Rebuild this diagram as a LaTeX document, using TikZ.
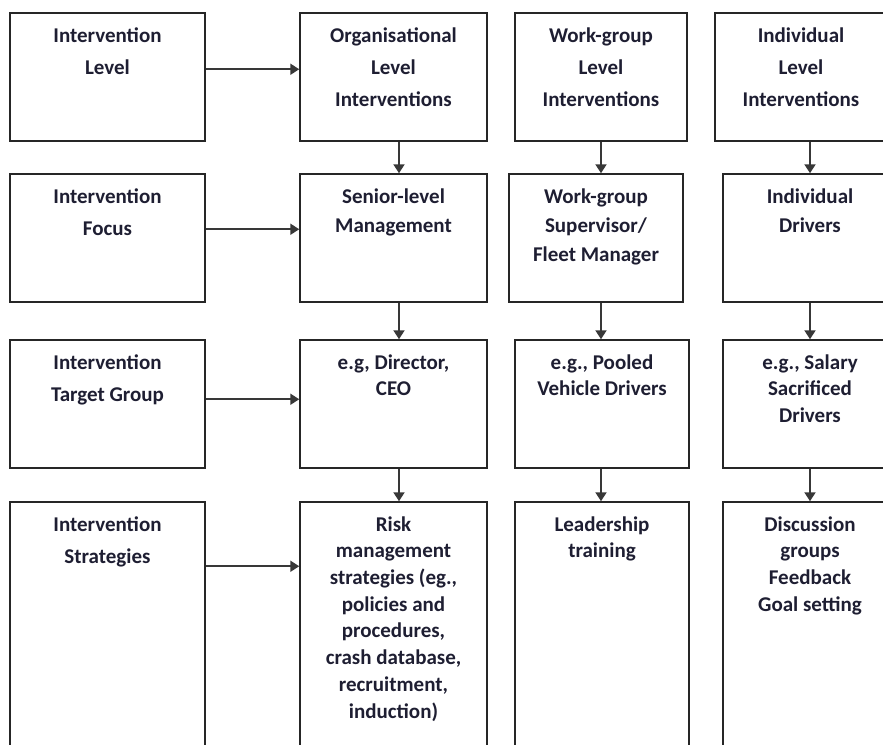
\documentclass[tikz,border=0pt]{standalone}
\usepackage{fontspec}
\setmainfont{Carlito}
\usetikzlibrary{arrows.meta}
\definecolor{inktext}{RGB}{30,30,50}

\begin{document}
\begin{tikzpicture}[x=1pt, y=-1pt,
    box/.style={draw=black!85, line width=1.5pt, inner sep=0pt},
    txt/.style={anchor=north, inner sep=0pt, align=center, text=inktext,
        font=\fontsize{21}{32}\selectfont\bfseries, execute at begin node={\rule{0pt}{15pt}}},
    tight/.style={font=\fontsize{21}{26.7}\selectfont\bfseries},
    mid/.style={font=\fontsize{21}{29}\selectfont\bfseries},
    arr/.style={-{Triangle[width=11pt,length=9pt]}, line width=2pt, draw=black!78, fill=black}]
    \useasboundingbox (0,0) rectangle (883,744);
    \clip (0,0) rectangle (883,744);

    % left column
    \node[box, minimum width=195pt, minimum height=128pt] (hdlevel) at (107.5,77) {};
    \node[box, minimum width=195pt, minimum height=128pt] (hdfocus) at (107.5,238) {};
    \node[box, minimum width=195pt, minimum height=128pt] (hdtarget) at (107.5,404) {};
    \node[box, minimum width=195pt, minimum height=268pt] (hdstrat) at (107.5,636) {};
    \node[txt, yshift=-15pt] (hdlevel-t) at (hdlevel.north) {Intervention\\Level};
    \node[txt, yshift=-15pt] (hdfocus-t) at (hdfocus.north) {Intervention\\Focus};
    \node[txt, yshift=-15pt] (hdtarget-t) at (hdtarget.north) {Intervention\\Target Group};
    \node[txt, yshift=-15pt] (hdstrat-t) at (hdstrat.north) {Intervention\\Strategies};

    % organisational
    \node[box, minimum width=187pt, minimum height=128pt] (orglevel) at (393.5,77) {};
    \node[box, minimum width=187pt, minimum height=128pt] (orgfocus) at (393.5,238) {};
    \node[box, minimum width=187pt, minimum height=128pt] (orgtarget) at (393.5,404) {};
    \node[box, minimum width=187pt, minimum height=268pt] (orgstrat) at (393.5,636) {};
    \node[txt, yshift=-15pt] (orglevel-t) at (orglevel.north) {Organisational\\Level\\Interventions};
    \node[txt, mid, yshift=-15pt] (orgfocus-t) at (orgfocus.north) {Senior-level\\Management};
    \node[txt, tight, yshift=-15pt] (orgtarget-t) at (orgtarget.north) {e.g, Director,\\CEO};
    \node[txt, tight, yshift=-15pt] (orgstrat-t) at (orgstrat.north)
        {Risk\\management\\strategies (eg.,\\policies and\\procedures,\\crash database,\\recruitment,\\induction)};

    % work-group
    \node[box, minimum width=172pt, minimum height=128pt] (wglevel) at (601,77) {};
    \node[box, minimum width=174pt, minimum height=128pt] (wgfocus) at (596,238) {};
    \node[box, minimum width=174pt, minimum height=128pt] (wgtarget) at (602,404) {};
    \node[box, minimum width=174pt, minimum height=268pt] (wgstrat) at (602,636) {};
    \node[txt, yshift=-15pt] (wglevel-t) at (wglevel.north) {Work-group\\Level\\Interventions};
    \node[txt, mid, yshift=-15pt] (wgfocus-t) at (wgfocus.north) {Work-group\\Supervisor/\\Fleet Manager};
    \node[txt, tight, yshift=-15pt] (wgtarget-t) at (wgtarget.north) {e.g., Pooled\\Vehicle Drivers};
    \node[txt, tight, yshift=-15pt] (wgstrat-t) at (wgstrat.north) {Leadership\\training};

    % individual
    \node[box, minimum width=172pt, minimum height=128pt] (indlevel) at (801,77) {};
    \node[box, minimum width=174pt, minimum height=128pt] (indfocus) at (810,238) {};
    \node[box, minimum width=174pt, minimum height=128pt] (indtarget) at (810,404) {};
    \node[box, minimum width=174pt, minimum height=268pt] (indstrat) at (810,636) {};
    \node[txt, yshift=-15pt] (indlevel-t) at (indlevel.north) {Individual\\Level\\Interventions};
    \node[txt, mid, yshift=-15pt] (indfocus-t) at (indfocus.north) {Individual\\Drivers};
    \node[txt, tight, yshift=-15pt] (indtarget-t) at (indtarget.north) {e.g., Salary\\Sacrificed\\Drivers};
    \node[txt, tight, yshift=-15pt] (indstrat-t) at (indstrat.north) {Discussion\\groups\\Feedback\\Goal setting};

    % arrows
    \draw[arr] ([yshift=-57pt]hdlevel.north east) -- ([yshift=-57pt]orglevel.north west);
    \draw[arr] ([yshift=-56pt]hdfocus.north east) -- ([yshift=-56pt]orgfocus.north west);
    \draw[arr] ([yshift=-60pt]hdtarget.north east) -- ([yshift=-60pt]orgtarget.north west);
    \draw[arr] ([yshift=-65pt]hdstrat.north east) -- ([yshift=-65pt]orgstrat.north west);

    \draw[arr] ([xshift=5.5pt]orglevel.south) -- ([xshift=5.5pt]orgfocus.north);
    \draw[arr] ([xshift=5.5pt]orgfocus.south) -- ([xshift=5.5pt]orgtarget.north);
    \draw[arr] ([xshift=5.5pt]orgtarget.south) -- ([xshift=5.5pt]orgstrat.north);

    \draw[arr] (wglevel.south) -- (wgfocus.north -| wglevel);
    \draw[arr] (wgfocus.south -| wglevel) -- (wgtarget.north -| wglevel);
    \draw[arr] (wgtarget.south -| wglevel) -- (wgstrat.north -| wglevel);

    \draw[arr] (indlevel.south -| indfocus) -- (indfocus.north);
    \draw[arr] (indfocus.south) -- (indtarget.north);
    \draw[arr] (indtarget.south) -- (indstrat.north);
\end{tikzpicture}
\end{document}
